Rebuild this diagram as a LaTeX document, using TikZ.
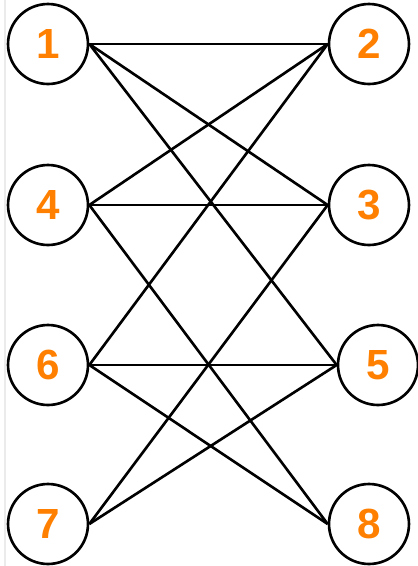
\documentclass[tikz,border=0pt]{standalone}
\usepackage{fontspec}
\setmainfont{Liberation Sans}
\usetikzlibrary{positioning}
\definecolor{numorange}{HTML}{FF8000}

\begin{document}
\begin{tikzpicture}[x=0.02cm, y=-0.02cm,
		vertex/.style={circle, draw=black, line width=1.5pt, minimum size=1.6cm, inner sep=0pt,
			text=numorange, font=\fontsize{24}{28}\selectfont\bfseries},
		edge/.style={line width=1.5pt, black}]
	\useasboundingbox (0,0) rectangle (417,566);
	\draw[black!8, line width=1.5pt] (5,0) -- (5,566);
	% left column
	\foreach \y/\lbl in {44/1, 205/4, 365/6, 524/7} {
		\node[vertex] (n\lbl) at (48,\y) {\lbl};
	}
	% right column
	\foreach \x/\y/\lbl in {369/44/2, 369/205/3, 378/365/5, 369/524/8} {
		\node[vertex] (n\lbl) at (\x,\y) {\lbl};
	}
	\foreach \a/\b in {1/2, 1/3, 1/5, 4/2, 4/3, 4/8, 6/2, 6/5, 6/8, 7/3, 7/5} {
		\draw[edge] (n\a.east) -- (n\b.west);
	}
\end{tikzpicture}
\end{document}
